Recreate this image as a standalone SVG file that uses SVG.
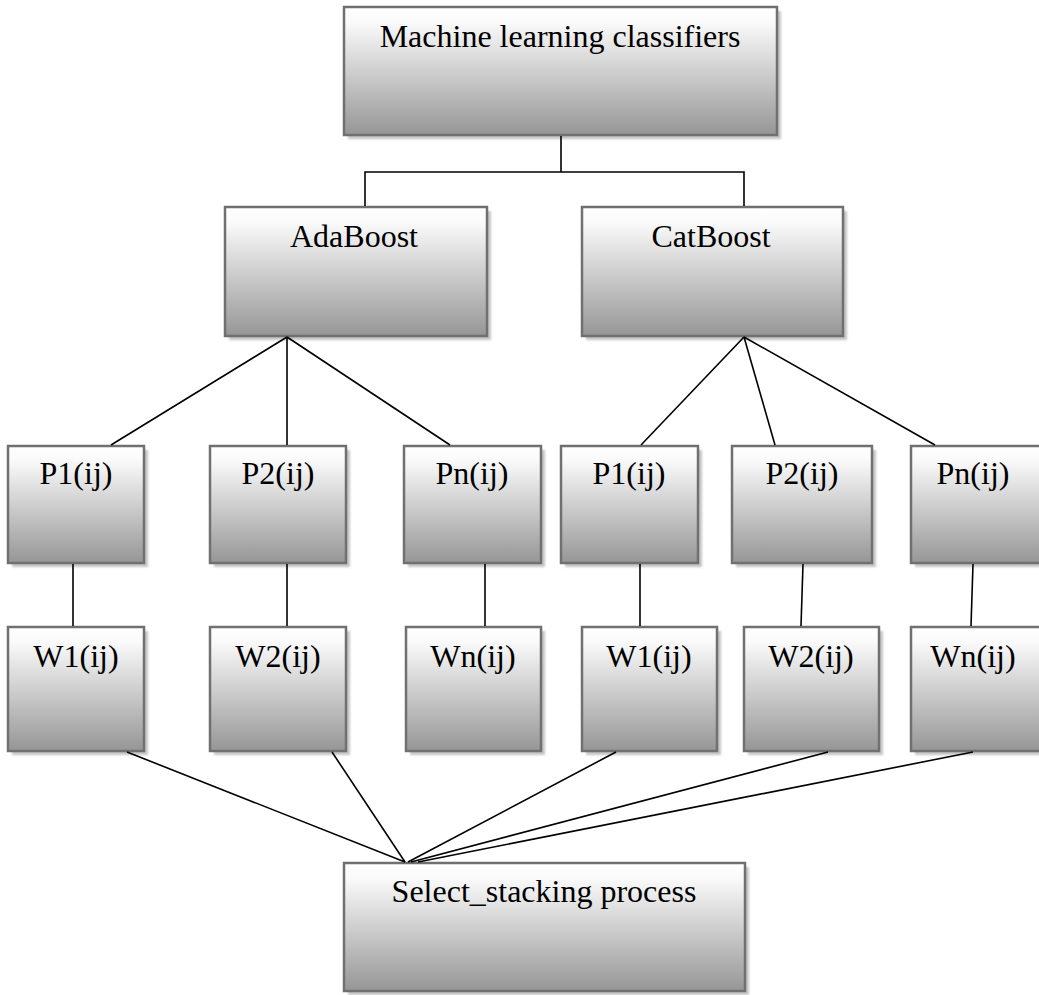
<svg xmlns="http://www.w3.org/2000/svg" width="1039" height="995" viewBox="0 0 1039 995">
<defs>
<linearGradient id="g" x1="0" y1="0" x2="0" y2="1">
<stop offset="0" stop-color="#ffffff"/>
<stop offset="0.12" stop-color="#fafafa"/>
<stop offset="1" stop-color="#969696"/>
</linearGradient>
<filter id="sh" x="-10%" y="-10%" width="130%" height="130%">
<feGaussianBlur stdDeviation="1"/>
</filter>
</defs>
<style>
.box{fill:url(#g);stroke:#707070;stroke-width:2.5}
.shadow{fill:#c4c4c4;filter:url(#sh)}
.lbl{font-family:"Liberation Serif","Times New Roman",serif;font-size:32px;fill:#000;text-anchor:middle}
.c{stroke:#000;stroke-width:1.6;fill:none}
</style>
<rect width="1039" height="995" fill="#fff"/>
<g id="n-top"><rect class="shadow" x="348" y="11" width="433" height="128"/><rect class="box" x="344" y="7" width="433" height="128"/><text class="lbl" x="560" y="47">Machine learning classifiers</text></g>
<g id="n-ada"><rect class="shadow" x="229" y="211" width="262" height="129"/><rect class="box" x="225" y="207" width="262" height="129"/><text class="lbl" x="354" y="247">AdaBoost</text></g>
<g id="n-cat"><rect class="shadow" x="586" y="211" width="261" height="129"/><rect class="box" x="582" y="207" width="261" height="129"/><text class="lbl" x="711" y="247">CatBoost</text></g>
<g id="n-p1a"><rect class="shadow" x="12" y="450" width="136" height="117"/><rect class="box" x="8" y="446" width="136" height="117"/><text class="lbl" x="76" y="484">P1(ij)</text></g>
<g id="n-p2a"><rect class="shadow" x="214" y="450" width="136" height="117"/><rect class="box" x="210" y="446" width="136" height="117"/><text class="lbl" x="278" y="484">P2(ij)</text></g>
<g id="n-pna"><rect class="shadow" x="408" y="450" width="137" height="117"/><rect class="box" x="404" y="446" width="137" height="117"/><text class="lbl" x="472" y="484">Pn(ij)</text></g>
<g id="n-p1c"><rect class="shadow" x="565" y="450" width="137" height="117"/><rect class="box" x="561" y="446" width="137" height="117"/><text class="lbl" x="629" y="484">P1(ij)</text></g>
<g id="n-p2c"><rect class="shadow" x="736" y="450" width="140" height="117"/><rect class="box" x="732" y="446" width="140" height="117"/><text class="lbl" x="802" y="484">P2(ij)</text></g>
<g id="n-pnc"><rect class="shadow" x="915" y="450" width="136" height="117"/><rect class="box" x="911" y="446" width="136" height="117"/><text class="lbl" x="973" y="484">Pn(ij)</text></g>
<g id="n-w1a"><rect class="shadow" x="12" y="631" width="136" height="124"/><rect class="box" x="8" y="627" width="136" height="124"/><text class="lbl" x="76" y="667">W1(ij)</text></g>
<g id="n-w2a"><rect class="shadow" x="214" y="631" width="136" height="124"/><rect class="box" x="210" y="627" width="136" height="124"/><text class="lbl" x="278" y="667">W2(ij)</text></g>
<g id="n-wna"><rect class="shadow" x="410" y="631" width="135" height="124"/><rect class="box" x="406" y="627" width="135" height="124"/><text class="lbl" x="473" y="667">Wn(ij)</text></g>
<g id="n-w1c"><rect class="shadow" x="586" y="631" width="135" height="124"/><rect class="box" x="582" y="627" width="135" height="124"/><text class="lbl" x="649" y="667">W1(ij)</text></g>
<g id="n-w2c"><rect class="shadow" x="748" y="631" width="135" height="124"/><rect class="box" x="744" y="627" width="135" height="124"/><text class="lbl" x="811" y="667">W2(ij)</text></g>
<g id="n-wnc"><rect class="shadow" x="915" y="631" width="136" height="124"/><rect class="box" x="911" y="627" width="136" height="124"/><text class="lbl" x="973" y="667">Wn(ij)</text></g>
<g id="n-sel"><rect class="shadow" x="348" y="867" width="401" height="128"/><rect class="box" x="344" y="863" width="401" height="128"/><text class="lbl" x="544" y="902">Select_stacking process</text></g>
<g id="connectors">
<polyline class="c" points="561,136 561,172"/>
<polyline class="c" points="365,206 365,172 744,172 744,206"/>
<line class="c" x1="287" y1="337" x2="111" y2="445"/>
<line class="c" x1="287" y1="337" x2="287" y2="445"/>
<line class="c" x1="287" y1="337" x2="450" y2="445"/>
<line class="c" x1="744" y1="337" x2="641" y2="445"/>
<line class="c" x1="744" y1="337" x2="775" y2="445"/>
<line class="c" x1="744" y1="337" x2="935" y2="445"/>
<line class="c" x1="73" y1="564" x2="73" y2="626"/>
<line class="c" x1="287" y1="564" x2="287" y2="626"/>
<line class="c" x1="485" y1="564" x2="485" y2="626"/>
<line class="c" x1="640" y1="564" x2="640" y2="626"/>
<line class="c" x1="803" y1="564" x2="801" y2="626"/>
<line class="c" x1="973" y1="564" x2="971" y2="626"/>
<line class="c" x1="127" y1="752" x2="405" y2="862"/>
<line class="c" x1="332" y1="752" x2="405" y2="862"/>
<line class="c" x1="616" y1="752" x2="408" y2="862"/>
<line class="c" x1="828" y1="752" x2="411" y2="862"/>
<line class="c" x1="973" y1="752" x2="418" y2="862"/>
</g>
</svg>
